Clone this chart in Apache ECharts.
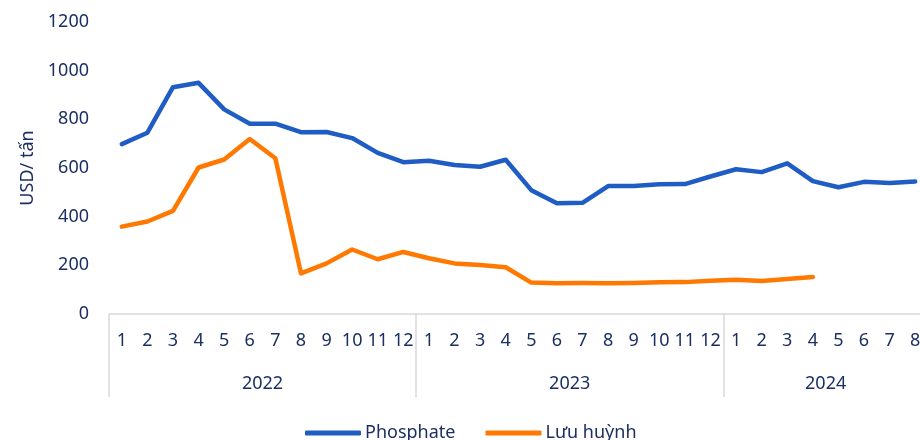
<!DOCTYPE html>
<html><head><meta charset="utf-8">
<script src="https://cdn.jsdelivr.net/npm/echarts@6/dist/echarts.min.js"></script>
<style>html,body{margin:0;padding:0;background:#fff;overflow:hidden;width:920px;height:440px}#c{width:928px;height:440px}</style>
</head><body><div id="c"></div>
<script>
const months = ['1','2','3','4','5','6','7','8','9','10','11','12','1','2','3','4','5','6','7','8','9','10','11','12','1','2','3','4','5','6','7','8'];
const years = ['2022','2023','2024'];
const yearCenters = [6, 18, 28];
const phosphate = [698,745,932,950,841,782,782,747,748,723,662,624, 630,612,605,634,509,455,457,526,526,533,534,565, 595,583,619,546,521,543,538,545];
const luuHuynh = [359,380,424,602,635,719,640,167,208,265,225,255, 229,208,201,192,129,126,127,126,127,130,131,137, 141,136,144,152];
const yTicks = [0,200,400,600,800,1000,1200];

const txt = '#1b2f62';
const font = 'Noto Sans';
const fs = 18;
const chart = echarts.init(document.getElementById('c'));
chart.setOption({
  animation: false,
  textStyle: {fontFamily: font, color: txt},
  grid: {left: 109, top: 22, right: 0, bottom: 126},
  legend: {
    left: 300, top: 419, itemWidth: 56, itemHeight: 5, itemGap: 30, icon: 'roundRect',
    textStyle: {fontFamily: font, fontSize: fs, color: txt, padding: [0, 0, 0, -1]},
    data: ['Phosphate', 'Lưu huỳnh']
  },
  xAxis: [{
    type: 'category', data: months, boundaryGap: true, position: 'bottom',
    axisLine: {lineStyle: {color: '#d9d9d9', width: 1.5}},
    axisTick: {show: true, length: 83, interval: (i) => i % 12 === 0, lineStyle: {color: '#d9d9d9', width: 1.5}},
    axisLabel: {interval: 0, margin: 18, fontSize: fs, color: txt, fontFamily: font}
  }, {
    type: 'value', min: 0, max: 32, position: 'bottom',
    axisLine: {show: false}, axisTick: {show: false}, splitLine: {show: false},
    axisLabel: {
      customValues: yearCenters, margin: 61, fontSize: fs, color: txt, fontFamily: font,
      formatter: (v) => years[yearCenters.indexOf(v)] || ''
    }
  }],
  yAxis: {
    type: 'value', min: yTicks[0], max: yTicks[yTicks.length - 1], interval: 200,
    name: 'USD/ tấn', nameLocation: 'middle', nameGap: 72, nameRotate: 90,
    nameTextStyle: {fontSize: fs, color: txt, fontFamily: font},
    axisLine: {show: false}, axisTick: {show: false}, splitLine: {show: false},
    axisLabel: {margin: 20, fontSize: fs, color: txt, fontFamily: font, formatter: (v) => String(v)}
  },
  series: [{
    name: 'Phosphate', type: 'line', data: phosphate, symbol: 'none',
    lineStyle: {color: '#1f5dc5', width: 4.5, cap: 'round', join: 'round'}, itemStyle: {color: '#1f5dc5'}
  }, {
    name: 'Lưu huỳnh', type: 'line', data: luuHuynh, symbol: 'none',
    lineStyle: {color: '#ff7800', width: 4.5, cap: 'round', join: 'round'}, itemStyle: {color: '#ff7800'}
  }]
});
</script></body></html>
